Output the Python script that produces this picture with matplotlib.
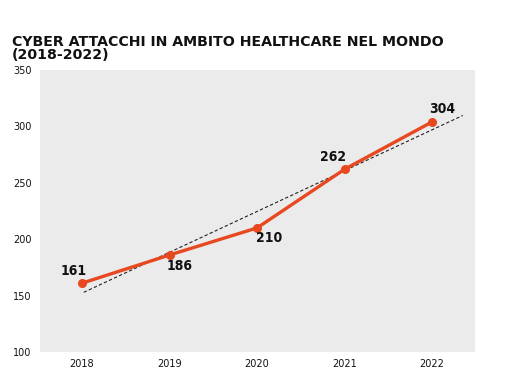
import numpy as np
import matplotlib
matplotlib.use('Agg')
import matplotlib.pyplot as plt

# data
years = ['2018', '2019', '2020', '2021', '2022']
attacks = [161, 186, 210, 262, 304]
# label offsets (points) so numbers sit where the original puts them
label_offsets = [(-6, 9), (7, -8), (9, -7), (-8, 9), (7, 9)]

LINE_COLOR = '#E8481F'
BG = '#EBEBEB'

fig = plt.figure(figsize=(5.09, 3.84), dpi=100)
ax = fig.add_axes([40 / 509, 1 - 352 / 384, 435 / 509, 282 / 384])
ax.set_facecolor(BG)

x = np.arange(len(years))

# linear trend line (dashed)
slope, intercept = np.polyfit(x, attacks, 1)
xt = np.array([0.02, 4.35])
ax.plot(xt, slope * xt + intercept, linestyle=(0, (3, 2)), color='#222222',
        linewidth=0.8, zorder=2)

ax.plot(x, attacks, color=LINE_COLOR, linewidth=2.4, marker='o',
        markersize=5.5, zorder=3)

for xi, v, (dx, dy) in zip(x, attacks, label_offsets):
    ax.annotate(str(v), (xi, v), xytext=(dx, dy), textcoords='offset points',
                ha='center', va='center', fontsize=10, fontweight='bold',
                fontstretch='condensed', color='#111111', zorder=4)

ax.set_xlim(-0.48, 4.49)
ax.set_ylim(100, 350)
ax.set_xticks(x)
ax.set_xticklabels(years)
ax.set_yticks(range(100, 351, 50))
ax.tick_params(length=0, labelsize=7, colors='#111111')
ax.tick_params(axis='y', pad=6)
ax.tick_params(axis='x', pad=5)
for s in ax.spines.values():
    s.set_visible(False)

fig.text(12 / 509, 1 - 35 / 384, 'CYBER ATTACCHI IN AMBITO HEALTHCARE NEL MONDO\n(2018-2022)',
         ha='left', va='top', fontsize=10.2, fontweight='heavy', color='#111111',
         linespacing=0.95)

fig.savefig('out.png', dpi=100, facecolor='white')
